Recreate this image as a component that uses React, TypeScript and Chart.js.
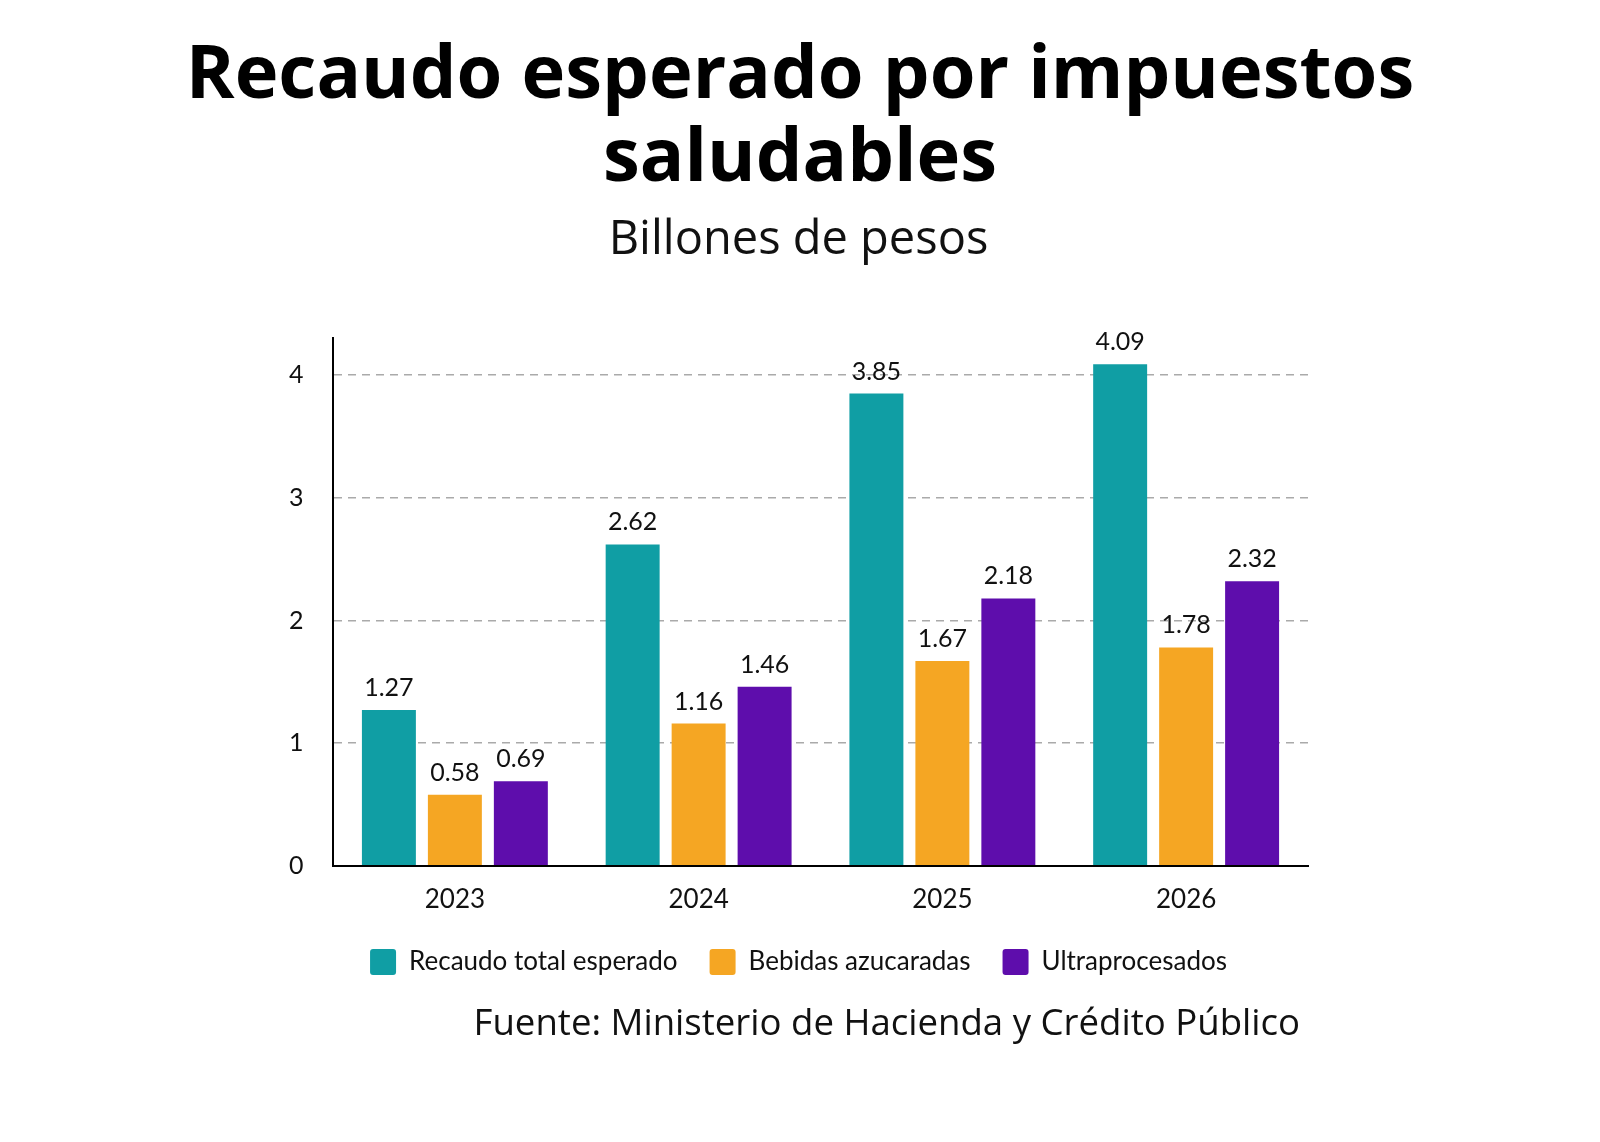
import React, { useEffect, useRef } from 'react';
import { Chart, registerables } from 'chart.js';

Chart.register(...registerables);

const years = ['2023', '2024', '2025', '2026'];
const totalValues = [1.27, 2.62, 3.85, 4.09];
const bebidasValues = [0.58, 1.16, 1.67, 1.78];
const ultraValues = [0.69, 1.46, 2.18, 2.32];
const seriesNames = ['Recaudo total esperado', 'Bebidas azucaradas', 'Ultraprocesados'];
const seriesColors = ['#109EA4', '#F5A623', '#5E0DAC'];
const yTicks = [0, 1, 2, 3, 4];
const yMax = 4.3;
const titleLines = ['Recaudo esperado por impuestos', 'saludables'];
const subtitleText = 'Billones de pesos';
const sourceText = 'Fuente: Ministerio de Hacienda y Crédito Público';

const valueLabels = {
  id: 'valueLabels',
  afterDatasetsDraw(chart: any) {
    const ctx = chart.ctx;
    ctx.save();
    ctx.font = '25px Lato';
    ctx.fillStyle = '#111';
    ctx.textAlign = 'center';
    ctx.textBaseline = 'alphabetic';
    chart.data.datasets.forEach((ds: any, i: number) => {
      const meta = chart.getDatasetMeta(i);
      meta.data.forEach((bar: any, j: number) => {
        ctx.fillText(Number(ds.data[j]).toFixed(2), bar.x, bar.y - 14);
      });
    });
    ctx.restore();
  },
};

const headerFooter = {
  id: 'headerFooter',
  afterDraw(chart: any) {
    const ctx = chart.ctx;
    ctx.save();
    ctx.fillStyle = '#000';
    ctx.textAlign = 'center';
    ctx.textBaseline = 'middle';
    ctx.font = 'bold 74px "Open Sans"';
    titleLines.forEach((line, i) => {
      ctx.fillText(line, chart.width / 2, 77 + i * 83);
    });
    ctx.fillStyle = '#111';
    ctx.textAlign = 'right';
    ctx.font = '36.6px "Open Sans"';
    ctx.fillText(sourceText, chart.chartArea.right - 8, chart.chartArea.bottom + 159);
    ctx.restore();
  },
};

export default function App() {
  const ref = useRef<HTMLCanvasElement | null>(null);

  useEffect(() => {
    if (!ref.current) return;
    const chart = new Chart(ref.current, {
      type: 'bar',
      data: {
        labels: years,
        datasets: [totalValues, bebidasValues, ultraValues].map((vals, i) => ({
          label: seriesNames[i],
          data: vals,
          backgroundColor: seriesColors[i],
          borderWidth: 0,
          categoryPercentage: 0.812,
          barPercentage: 0.818,
        })),
      },
      options: {
        responsive: false,
        animation: false,
        layout: { padding: { left: 289, right: 292, top: 0, bottom: 157 } },
        plugins: {
          title: { display: false },
          subtitle: {
            display: true,
            text: subtitleText,
            color: '#111',
            font: { family: '"Open Sans"', size: 47, weight: 'normal', lineHeight: 1.2 },
            padding: { top: 212, bottom: 70 },
          },
          legend: {
            position: 'bottom',
            labels: {
              color: '#111',
              font: { family: 'Lato', size: 26 },
              boxWidth: 26,
              boxHeight: 26,
              padding: 32,
              useBorderRadius: true,
              borderRadius: 3,
            },
          },
          tooltip: { enabled: false },
        },
        scales: {
          x: {
            grid: { display: false, drawTicks: false },
            border: { display: true, color: '#000', width: 2 },
            ticks: { color: '#111', font: { family: 'Lato', size: 26 }, padding: 18 },
            afterFit: (scale: any) => {
              scale.height -= 16;
            },
          },
          y: {
            min: 0,
            max: yMax,
            afterBuildTicks: (scale: any) => {
              scale.ticks = yTicks.map((v) => ({ value: v }));
            },
            afterFit: (scale: any) => {
              scale.width = 44;
            },
            grid: { color: '#aaaaaa', lineWidth: 1.5, drawTicks: false },
            border: { display: true, color: '#000', width: 2, dash: [8, 6] },
            ticks: { color: '#111', font: { family: 'Lato', size: 25 }, padding: 30, crossAlign: 'far' },
          },
        },
      },
      plugins: [valueLabels, headerFooter],
    } as any);
    return () => chart.destroy();
  }, []);

  return (
    <div style={{ position: 'absolute', left: 0, top: 0, width: 1600, height: 1142, background: '#fff' }}>
      <canvas ref={ref} width={1600} height={1142} style={{ display: 'block' }} />
    </div>
  );
}
